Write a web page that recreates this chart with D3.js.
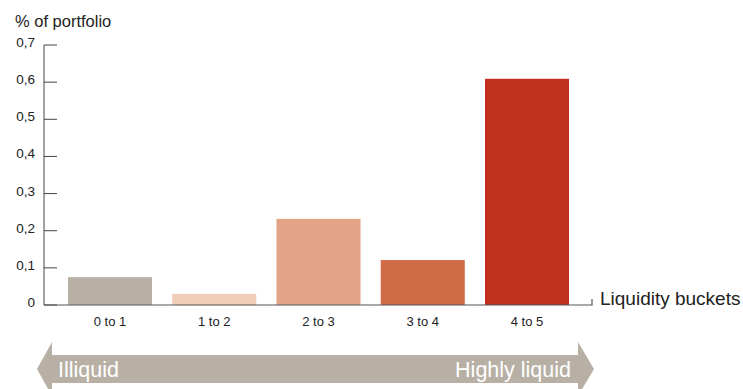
<!DOCTYPE html>
<html>
<head>
<meta charset="utf-8">
<script src="https://cdn.jsdelivr.net/npm/d3@7.9.0/dist/d3.min.js"></script>
<style>
  body { margin: 0; background: #fff; }
  svg { display: block; font-family: "Liberation Sans", Arial, sans-serif; }
</style>
</head>
<body>
<svg id="chart" width="743" height="389"></svg>
<script>
const buckets = ["0 to 1", "1 to 2", "2 to 3", "3 to 4", "4 to 5"];
const shares = [0.075, 0.03, 0.232, 0.121, 0.609];
const barColors = ["#b8b0a5", "#f0cdb8", "#e3a386", "#cf6b47", "#c0301c"];
const yTicks = [0, 0.1, 0.2, 0.3, 0.4, 0.5, 0.6, 0.7];
const tickLabels = ["0", "0,1", "0,2", "0,3", "0,4", "0,5", "0,6", "0,7"];

const svg = d3.select("#chart");

const x = d3.scaleBand()
  .domain(buckets)
  .range([44, 593])
  .paddingInner(0.194)
  .paddingOuter(0.23);

const y = d3.scaleLinear().domain([0, 0.7]).range([305, 45]);

// y axis title
svg.append("text")
  .attr("x", 15).attr("y", 27)
  .attr("font-size", 16.5).attr("fill", "#222")
  .text("% of portfolio");

// vertical axis line + ticks
svg.append("line")
  .attr("x1", 44).attr("x2", 44)
  .attr("y1", y(0.7)).attr("y2", y(0))
  .attr("stroke", "#444").attr("stroke-width", 1);

yTicks.forEach((t, i) => {
  svg.append("line")
    .attr("x1", 44).attr("x2", 57)
    .attr("y1", y(t)).attr("y2", y(t))
    .attr("stroke", "#444").attr("stroke-width", 1);
  svg.append("text")
    .attr("x", 35).attr("y", y(t) + 2)
    .attr("text-anchor", "end")
    .attr("font-size", 13.5).attr("fill", "#222")
    .text(tickLabels[i]);
});

// bars
svg.selectAll("rect.bar")
  .data(buckets)
  .enter()
  .append("rect")
  .attr("class", "bar")
  .attr("x", d => x(d))
  .attr("width", x.bandwidth())
  .attr("y", (d, i) => y(shares[i]))
  .attr("height", (d, i) => y(0) - y(shares[i]))
  .attr("fill", (d, i) => barColors[i]);

// baseline with small end tick
svg.append("path")
  .attr("d", `M44,${y(0)}H592V${y(0) - 6}`)
  .attr("fill", "none")
  .attr("stroke", "#555").attr("stroke-width", 1.2);

// category labels
svg.selectAll("text.cat")
  .data(buckets)
  .enter()
  .append("text")
  .attr("class", "cat")
  .attr("x", d => x(d) + x.bandwidth() / 2)
  .attr("y", 326)
  .attr("text-anchor", "middle")
  .attr("font-size", 13).attr("fill", "#222")
  .text(d => d);

svg.append("text")
  .attr("x", 600).attr("y", 305)
  .attr("font-size", 19).attr("fill", "#222")
  .text("Liquidity buckets");

// double-headed arrow
const arrow = d3.path();
arrow.moveTo(37, 369);
arrow.lineTo(52, 342);
arrow.lineTo(52, 355);
arrow.lineTo(578, 355);
arrow.lineTo(578, 342);
arrow.lineTo(594, 369);
arrow.lineTo(578, 396);
arrow.lineTo(578, 383);
arrow.lineTo(52, 383);
arrow.lineTo(52, 396);
arrow.closePath();
svg.append("path").attr("d", arrow.toString()).attr("fill", "#b8b0a5");

svg.append("text")
  .attr("x", 58).attr("y", 377)
  .attr("font-size", 21.5).attr("fill", "#fff")
  .text("Illiquid");
svg.append("text")
  .attr("x", 571).attr("y", 377)
  .attr("text-anchor", "end")
  .attr("font-size", 21.5).attr("fill", "#fff")
  .text("Highly liquid");
</script>
</body>
</html>
